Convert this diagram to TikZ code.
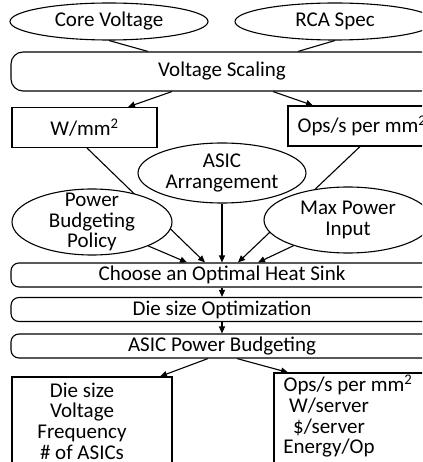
\documentclass[tikz,border=0pt]{standalone}
\usepackage{fontspec}
\setmainfont{Carlito}
\usetikzlibrary{arrows.meta,shapes.geometric,backgrounds}
\begin{document}
\begin{tikzpicture}[x=1pt,y=-1pt,
  every node/.style={font=\fontsize{21}{20.6}\selectfont, inner sep=0pt},
  ell/.style={ellipse, draw, fill=white, line width=1.1pt},
  rbox/.style={rectangle, draw, fill=white, line width=1.1pt, rounded corners=#1, minimum width=422pt},
  rbox/.default=12pt,
  sbox/.style={rectangle, draw, fill=white, line width=1.1pt},
  conn/.style={line width=1.1pt},
  arr/.style={line width=1.1pt, -{Triangle[length=7pt,width=6pt]}}]
\useasboundingbox (0,0) rectangle (422,462);
\clip (0,0) rectangle (422,462);

% top inputs
\node[ell, minimum width=198pt, minimum height=37pt, label={center:Core Voltage}] (cv) at (109,21.5) {};
\node[ell, minimum width=200pt, minimum height=37pt, label={center:RCA Spec}] (rca) at (335,21.5) {};

\node[rbox=12pt, minimum height=39pt] (vs) at (222,71.5) {Voltage Scaling};

\node[sbox, minimum width=145pt, minimum height=40pt] (w) at (84.5,127.5) {W/mm\textsuperscript{2}};
\node[sbox, minimum width=148pt, minimum height=40pt] (ops) at (362,126) {Ops/s per mm\textsuperscript{2}};

\node[ell, minimum width=168pt, minimum height=60pt, label={[align=center]center:ASIC\\Arrangement}] (asic) at (222,173) {};
\node[ell, minimum width=160pt, minimum height=66pt, label={[align=center]center:Power\\Budgeting\\Policy}] (pb) at (92,222) {};
\node[ell, minimum width=168pt, minimum height=66pt, label={[align=center]center:Max Power\\Input}] (mp) at (348,220) {};

\node[rbox=8pt, minimum height=24pt] (ch) at (222,275) {Choose an Optimal Heat Sink};
\node[rbox=8pt, minimum height=24pt] (ds) at (222,309.5) {Die size Optimization};
\node[rbox=8pt, minimum height=24pt] (apb) at (222,346) {ASIC Power Budgeting};

\node[sbox, minimum width=160pt, minimum height=98pt] (lbox) at (92,426) {};
\node[align=center] (ltext) at (82,421) {Die size\\Voltage\\Frequency\\\# of ASICs};
\node[sbox, minimum width=166pt, minimum height=102pt] (rbx) at (357,424) {};
\node[align=center] (rtext) at (329,416) {\hspace*{38pt}Ops/s per mm\textsuperscript{2}\\W/server\\\$/server\\Energy/Op};

\begin{pgfonlayer}{background}
\draw[conn] (cv.south) -- ([xshift=-74pt]vs.north);
\draw[conn] (rca.south) -- ([xshift=-37pt]rca.south |- vs.north);
\draw[arr] ([xshift=-50pt]vs.south) -- ([xshift=43.5pt]w.north);
\draw[arr] ([xshift=51pt]vs.south) -- ([xshift=-49pt]ops.north);
\draw[arr] ([xshift=2.5pt]w.south) -- ([xshift=-17pt]ch.north);
\draw[arr] ([xshift=-2pt]ops.south) -- ([xshift=16pt]ch.north);
\draw[arr] (pb) -- ([xshift=-35pt]ch.north);
\draw[arr] (asic.south) -- (ch.north);
\draw[arr] (mp) -- ([xshift=36pt]ch.north);
\draw[arr] (ch.south) -- (ds.north);
\draw[arr] (ds.south) -- (apb.north);
\draw[arr] ([xshift=-14pt]apb.south) -- ([xshift=68pt]lbox.north);
\draw[arr] ([xshift=15pt]apb.south) -- ([xshift=-69pt]rbx.north);
\end{pgfonlayer}
\end{tikzpicture}
\end{document}
